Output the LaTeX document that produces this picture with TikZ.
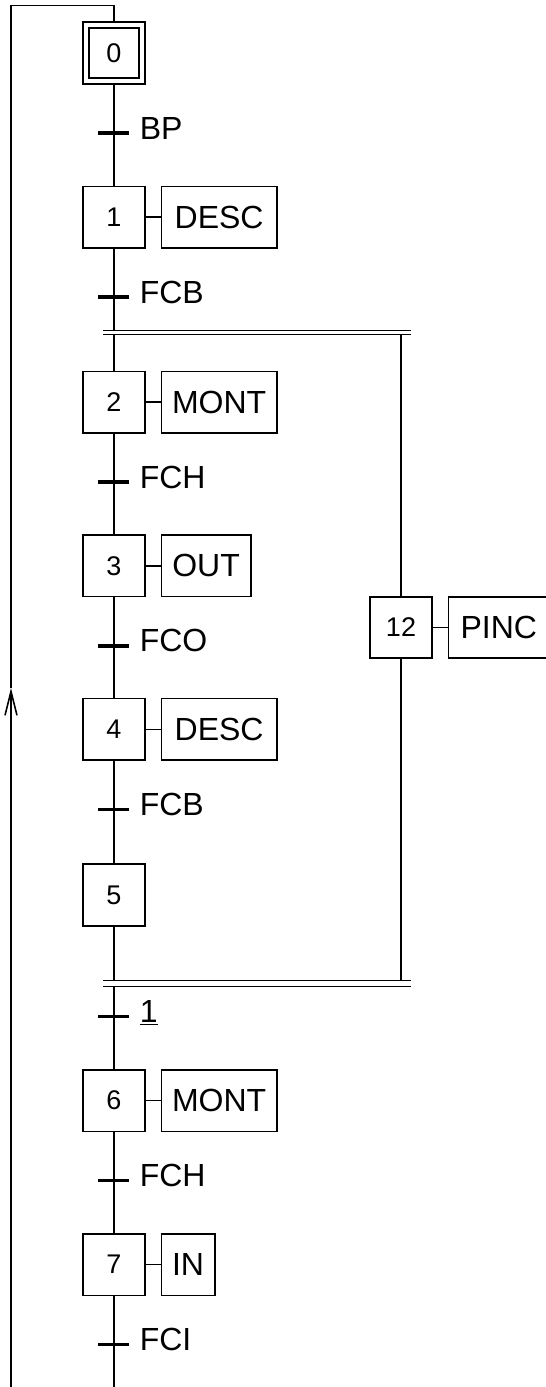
\documentclass[tikz,border=0pt]{standalone}
\usepackage{fontspec}
\setmainfont{Liberation Sans}
\usetikzlibrary{arrows.meta,calc,positioning}

\tikzset{
  stepbox/.style={draw,minimum size=61.5pt,inner sep=0pt,font=\fontsize{27}{32}\selectfont},
  initstep/.style={draw,double,double distance=4pt,minimum size=56pt,outer sep=3.5pt,inner sep=0pt,font=\fontsize{27}{32}\selectfont},
  actionbox/.style={draw,minimum height=61.5pt,inner sep=0pt,font=\fontsize{32}{38}\selectfont},
  tick/.style={line width=3.5pt},
  trlabel/.style={anchor=base west,inner sep=0pt,font=\fontsize{32}{38}\selectfont},
}

\begin{document}
\begin{tikzpicture}[x=1pt,y=-1pt,line width=1.6pt]
\useasboundingbox (0,0) rectangle (546,1387);
% steps
\node[initstep] (s0) at (114,53) {0};
\node[stepbox,below=101pt of s0] (s1) {1};
\node[stepbox,below=122pt of s1] (s2) {2};
\node[stepbox,below=100.5pt of s2] (s3) {3};
\node[stepbox,below=100.5pt of s3] (s4) {4};
\node[stepbox,below=102.5pt of s4] (s5) {5};
\node[stepbox,below=142.5pt of s5] (s6) {6};
\node[stepbox,below=101pt of s6] (s7) {7};
\node[stepbox] (s12) at (401,627.5) {12};
% actions
\node[actionbox,minimum width=115.5pt,right=15pt of s1] (a1) {DESC};
\node[actionbox,minimum width=115.5pt,right=15pt of s2] (a2) {MONT};
\node[actionbox,minimum width=89.5pt,right=15pt of s3] (a3) {OUT};
\node[actionbox,minimum width=115.5pt,right=15pt of s4] (a4) {DESC};
\node[actionbox,minimum width=115.5pt,right=15pt of s6] (a6) {MONT};
\node[actionbox,minimum width=53.5pt,right=15pt of s7] (a7) {IN};
\node[actionbox,minimum width=101pt,right=15pt of s12] (a12) {PINC};
\foreach \s in {1,2,3,4,6,7,12} \draw (s\s) -- (a\s);
% transitions
\coordinate[below=48.5pt of s0] (t0);
\coordinate[below=48.5pt of s1] (t1);
\coordinate[below=48.5pt of s2] (t2);
\coordinate[below=48.5pt of s3] (t3);
\coordinate[below=48.5pt of s4] (t4);
\coordinate[above=52.5pt of s6] (t5);
\coordinate[below=48.5pt of s6] (t6);
\coordinate[below=48.5pt of s7] (t7);
\foreach \t/\lab in {t0/BP,t1/FCB,t2/FCH,t3/FCO,t4/FCB,t5/{\underline{1}},t6/FCH,t7/FCI}{
  \draw[tick] ([xshift=-16pt]\t) -- ([xshift=15pt]\t);
  \node[trlabel] (l\t) at ([xshift=25pt,yshift=-6pt]\t) {\lab};
}
% parallel bars
\coordinate (bar1a) at (103,330.5);
\coordinate (bar1b) at (103,334.5);
\coordinate (bar2a) at (103,980.5);
\coordinate (bar2b) at (103,986.5);
\foreach \b in {bar1a,bar1b,bar2a,bar2b} \draw (\b) -- ++(308,0);
% links
\draw (s0) -- (t0) -- (s1) -- (t1) -- (t1 |- bar1a);
\draw (s2 |- bar1b) -- (s2) -- (t2) -- (s3) -- (t3) -- (s4) -- (t4) -- (s5) -- (s5 |- bar2a);
\draw (s12 |- bar1b) -- (s12) -- (s12 |- bar2a);
\coordinate (endpt) at (114,1392);
\draw (s6 |- bar2b) -- (t5) -- (s6) -- (t6) -- (s7) -- (t7) -- (endpt);
% loop back to the initial step
\coordinate (loopbot) at (11,1392);
\coordinate (loopmid) at (11,688);
\coordinate (looptop) at (11,5.5);
\draw[-{Straight Barb[length=24pt,width=12pt]}] (loopbot) -- (loopmid);
\draw (loopmid) -- (looptop) -- (s0 |- looptop) -- (s0);
\end{tikzpicture}
\end{document}
